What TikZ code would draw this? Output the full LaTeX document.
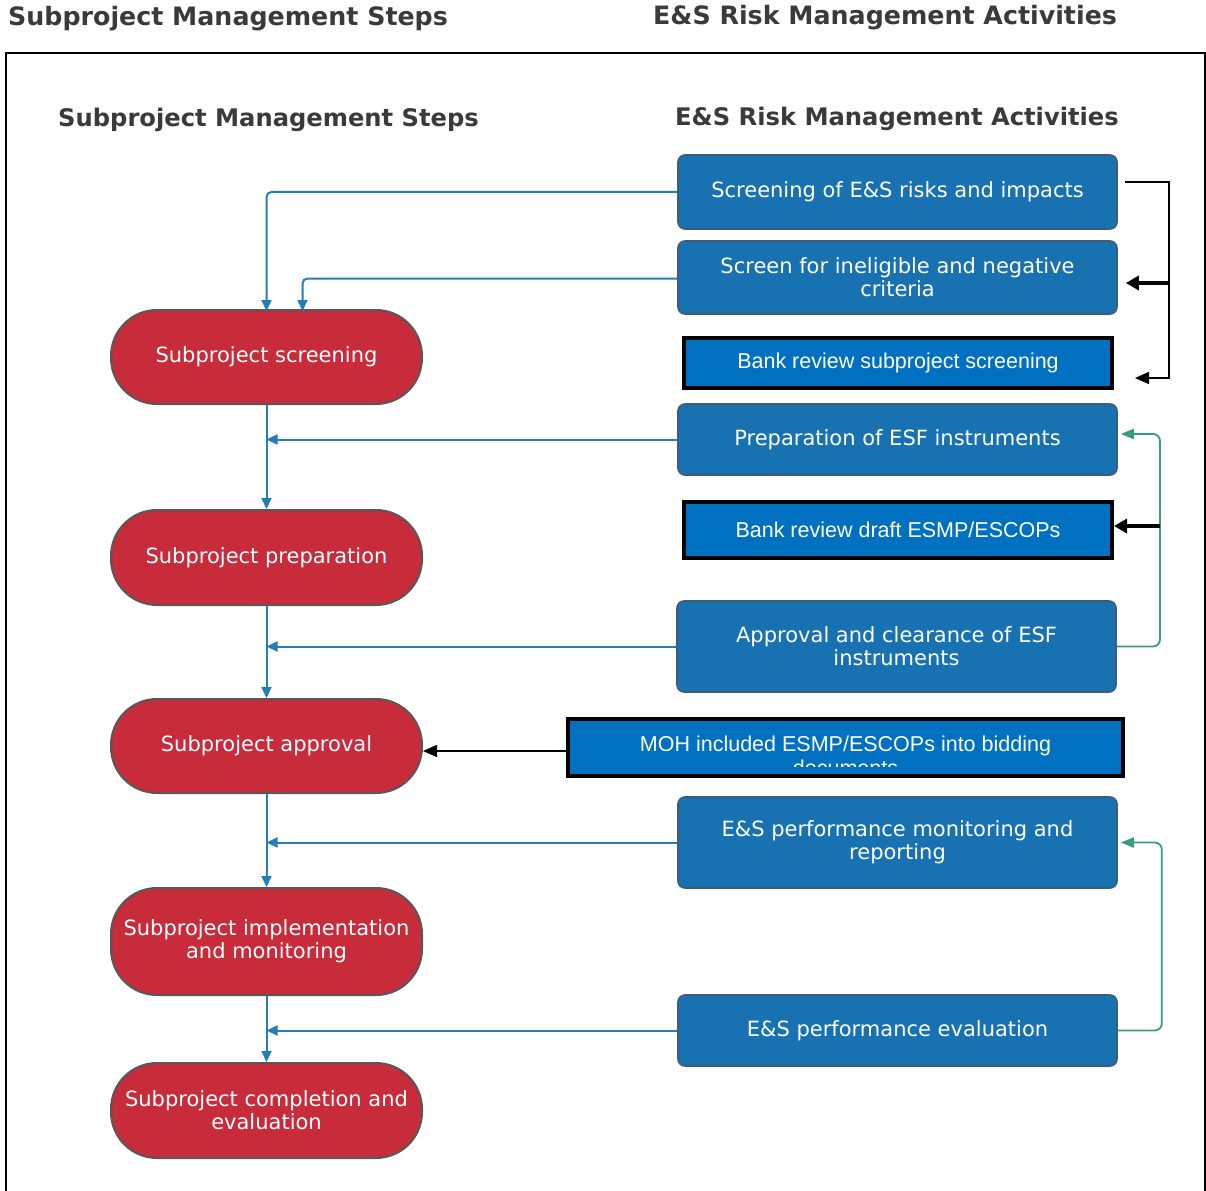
\documentclass[tikz,border=0pt]{standalone}
\usepackage{fontspec}
\setmainfont{DejaVu Sans}
\newfontfamily\arialf{Liberation Sans}
\usetikzlibrary{arrows.meta,calc}
\definecolor{boxblue}{RGB}{24,114,178}
\definecolor{boxedge}{RGB}{60,92,122}
\definecolor{msblue}{RGB}{0,112,192}
\definecolor{redfill}{RGB}{200,43,58}
\definecolor{rededge}{RGB}{88,88,88}
\definecolor{linkblue}{RGB}{34,125,184}
\definecolor{linkgreen}{RGB}{52,156,128}
\definecolor{titlegray}{RGB}{58,58,58}
\begin{document}
\begin{tikzpicture}[x=1pt,y=-1pt,
  lucid/.style={draw=boxedge, line width=1.6pt, fill=boxblue, rounded corners=7pt,
    minimum width=439pt, text=white, align=center, inner sep=0pt,
    font=\fontsize{21}{23}\selectfont},
  msbox/.style={draw=black, line width=4pt, fill=msblue, minimum width=428pt,
    text=white, align=center, inner sep=0pt, font=\arialf\fontsize{21.5}{24}\selectfont},
  stadium/.style={draw=rededge, line width=2pt, fill=redfill, rounded corners=46pt,
    minimum width=311pt, text=white, align=center, inner sep=0pt,
    font=\fontsize{21}{23}\selectfont},
  titletext/.style={text=titlegray, anchor=west, inner sep=0pt, font=\bfseries\fontsize{25.3}{28}\selectfont},
  ititletext/.style={text=titlegray, anchor=west, inner sep=0pt, font=\bfseries\fontsize{24.2}{27}\selectfont},
  blink/.style={draw=linkblue, line width=2pt, rounded corners=5pt, -{Triangle[length=11pt,width=10pt]}},
  glink/.style={draw=linkgreen, line width=1.8pt, rounded corners=7pt, -{Triangle[length=13pt,width=10pt]}},
  kthin/.style={draw=black, line width=1.6pt, -{Triangle[length=14pt,width=12pt]}},
  kthick/.style={draw=black, line width=3.2pt, -{Triangle[length=13pt,width=14pt]}}
]
\useasboundingbox (0,0) rectangle (1206,1190);
\fill[white] (0,0) rectangle (1206,1190);
% frame
\draw[line width=2pt] (6,1195) -- (6,53) -- (1205,53) -- (1205,1195);

% titles
\node[titletext] (t1) at (8,19) {Subproject Management Steps};
\node[titletext] (t2) at (653,18) {E\&S Risk Management Activities};
\node[ititletext] (t3) at (58,120) {Subproject Management Steps};
\node[ititletext] (t4) at (675,119) {E\&S Risk Management Activities};

% right column
\node[lucid, minimum height=74pt] (s1) at (897.5,192) {Screening of E\&S risks and impacts};
\node[lucid, minimum height=73pt] (s2) at (897.5,277.5) {Screen for ineligible and negative\\criteria};
\node[msbox, minimum height=50pt] (b3) at (898,363) {Bank review subproject screening};
\node[lucid, minimum height=71pt] (p4) at (897.5,439.5) {Preparation of ESF instruments};
\node[msbox, minimum height=56pt] (b5) at (898,530) {Bank review draft ESMP/ESCOPs};
\node[lucid, minimum height=91pt] (ap6) at (896.5,646.5) {Approval and clearance of ESF\\instruments};
\node[msbox, minimum width=555pt, minimum height=57pt] (moh) at (845.5,747.5) {};
\begin{scope}
  \clip (570,721) rectangle (1121,766.5);
  \node[text=white, align=center, inner sep=0pt, anchor=north,
    font=\arialf\fontsize{21.5}{24}\selectfont] (mohtext) at (845.5,736) {MOH included ESMP/ESCOPs into bidding\\documents};
\end{scope}
\node[lucid, minimum height=91pt] (m8) at (897.5,842.5) {E\&S performance monitoring and\\reporting};
\node[lucid, minimum height=71pt] (ev9) at (897.5,1030.5) {E\&S performance evaluation};

% left column
\node[stadium, minimum height=94pt] (A) at (266.5,357) {Subproject screening};
\node[stadium, minimum height=95pt] (B) at (266.5,557.5) {Subproject preparation};
\node[stadium, minimum height=94pt] (C) at (266.5,746) {Subproject approval};
\node[stadium, minimum height=107pt] (D) at (266.5,941.5) {Subproject implementation\\and monitoring};
\node[stadium, minimum height=95pt] (E) at (266.5,1110.5) {Subproject completion and\\evaluation};

% blue connectors
\draw[blink] (s1.west) -| ([yshift=-2pt]A.north);
\draw[blink] ([yshift=-1pt]s2.west) -| ([shift={(36,2)}]A.north);
\draw[blink] (A.south) -- (B.north);
\draw[blink] (p4.west) -- (p4.west -| A.south);
\draw[blink] (B.south) -- (C.north);
\draw[blink] (ap6.west) -- (ap6.west -| B.south);
\draw[blink] (C.south) -- (D.north);
\draw[blink] (m8.west) -- (m8.west -| C.south);
\draw[blink] (D.south) -- (E.north);
\draw[blink] (ev9.west) -- (ev9.west -| D.south);

% black bracket
\coordinate (j1) at (1169,283);
\draw[kthin] ([shift={(7,-10)}]s1.east) -| (j1) |- ([shift={(21,15)}]b3.east);
\draw[kthick] (j1) -- ([shift={(8,5.5)}]s2.east);
\draw[kthin] ([yshift=-3.5pt]moh.west) -- ([yshift=-5pt]C.east);

% green loops
\coordinate (g1) at (1160,526);
\draw[glink] (ap6.east) -| (g1) |- ([shift={(3,-5.5)}]p4.east);
\draw[kthick] (g1) -- ([shift={(0,-4)}]b5.east);
\draw[glink] (ev9.east) -- ++(44,0) |- ([shift={(3,0)}]m8.east);
\end{tikzpicture}
\end{document}
